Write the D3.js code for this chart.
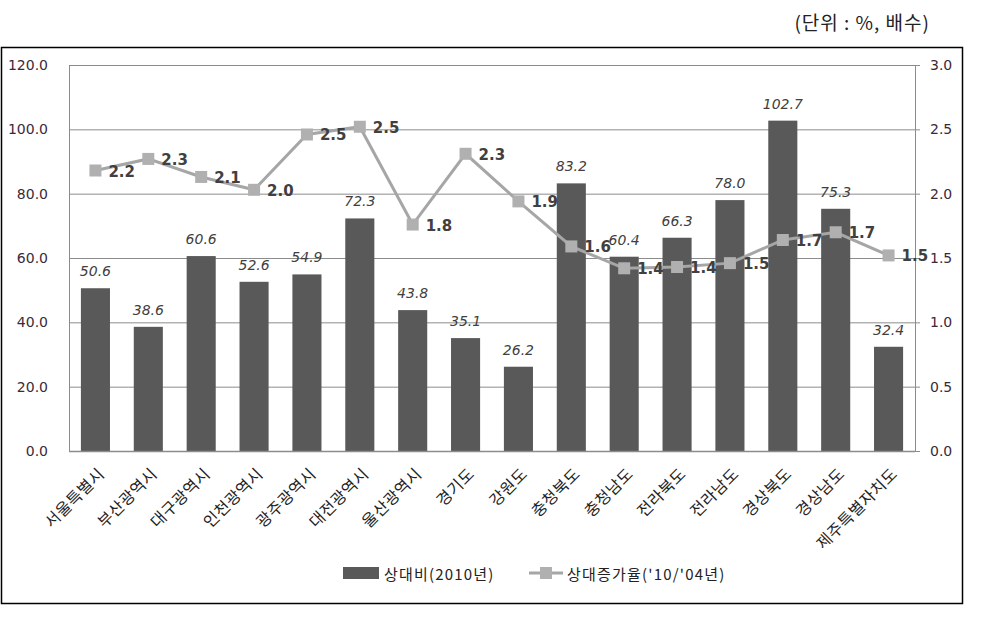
<!DOCTYPE html>
<html>
<head>
<meta charset="utf-8">
<script src="https://cdn.jsdelivr.net/npm/d3@7"></script>
<style>
body { margin: 0; background: #fff; }
text { font-family: "DejaVu Sans", "Noto Sans CJK KR", sans-serif; }
.kr { font-family: "Noto Sans CJK KR", sans-serif; }
</style>
</head>
<body>
<div id="chart"></div>
<script>
var regions = ["서울특별시", "부산광역시", "대구광역시", "인천광역시", "광주광역시", "대전광역시", "울산광역시",
    "경기도", "강원도", "충청북도", "충청남도", "전라북도", "전라남도", "경상북도", "경상남도", "제주특별자치도"];
var ratio2010 = [50.6, 38.6, 60.6, 52.6, 54.9, 72.3, 43.8, 35.1, 26.2, 83.2, 60.4, 66.3, 78.0, 102.7, 75.3, 32.4];
var growth = [2.18, 2.27, 2.13, 2.03, 2.46, 2.52, 1.76, 2.31, 1.94, 1.59, 1.42, 1.43, 1.46, 1.64, 1.70, 1.52];
var growthLabels = ["2.2", "2.3", "2.1", "2.0", "2.5", "2.5", "1.8", "2.3", "1.9", "1.6", "1.4", "1.4", "1.5", "1.7", "1.7", "1.5"];
var leftTicks = [0, 20, 40, 60, 80, 100, 120];
var rightTicks = [0, 0.5, 1.0, 1.5, 2.0, 2.5, 3.0];
var seriesNames = ["상대비(2010년)", "상대증가율('10/'04년)"];

var W = 986, H = 626;
var plot = {left: 69, right: 915, top: 65, bottom: 451};

var svg = d3.select("#chart").append("svg")
    .attr("width", W).attr("height", H);

// unit note
svg.append("text").attr("class", "kr")
    .attr("x", 930).attr("y", 30)
    .attr("text-anchor", "end")
    .style("font-size", "19px").style("letter-spacing", "1px").style("fill", "#222")
    .text("(단위 : %,  배수)");

// outer frame
svg.append("rect")
    .attr("x", 1.5).attr("y", 47.5).attr("width", 961).attr("height", 556)
    .style("fill", "none").style("stroke", "#000").style("stroke-width", 1.5);

var x = d3.scaleBand().domain(regions).range([plot.left, plot.right]).paddingInner(0.45).paddingOuter(0.225);
var yL = d3.scaleLinear().domain([0, 120]).range([plot.bottom, plot.top]);
var yR = d3.scaleLinear().domain([0, 3]).range([plot.bottom, plot.top]);

// gridlines
svg.append("g").selectAll("line").data(leftTicks.slice(1)).enter().append("line")
    .attr("x1", plot.left).attr("x2", plot.right)
    .attr("y1", function(d){ return yL(d) + 0.5; })
    .attr("y2", function(d){ return yL(d) + 0.5; })
    .style("stroke", "#8c8c8c").style("stroke-width", 1);

// left axis
var gL = svg.append("g").attr("transform", "translate(" + plot.left + ",0)")
    .call(d3.axisLeft(yL).tickValues(leftTicks).tickFormat(d3.format(".1f")).tickSize(0).tickPadding(21));
gL.select(".domain").style("stroke", "#8c8c8c");
gL.selectAll("text").style("font-size", "14px").style("fill", "#3a2a3a");

// right axis
var gR = svg.append("g").attr("transform", "translate(" + plot.right + ",0)")
    .call(d3.axisRight(yR).tickValues(rightTicks).tickFormat(d3.format(".1f")).tickSize(5).tickPadding(10));
gR.select(".domain").style("stroke", "#8c8c8c");
gR.selectAll("line").style("stroke", "#8c8c8c");
gR.selectAll("text").style("font-size", "14px").style("fill", "#3a2a3a");

// bars
svg.append("g").selectAll("rect").data(ratio2010).enter().append("rect")
    .attr("x", function(d, i){ return x(regions[i]); })
    .attr("width", x.bandwidth())
    .attr("y", function(d){ return yL(d); })
    .attr("height", function(d){ return plot.bottom - yL(d); })
    .style("fill", "#595959");

// bottom axis line
svg.append("line")
    .attr("x1", plot.left).attr("x2", plot.right)
    .attr("y1", plot.bottom + 0.5).attr("y2", plot.bottom + 0.5)
    .style("stroke", "#8c8c8c").style("stroke-width", 1.5);

// bar labels
svg.append("g").selectAll("text").data(ratio2010).enter().append("text")
    .attr("x", function(d, i){ return x(regions[i]) + x.bandwidth() / 2; })
    .attr("y", function(d){ return yL(d) - 12; })
    .attr("text-anchor", "middle")
    .style("font-size", "14px").style("font-style", "italic").style("fill", "#404040")
    .text(function(d){ return d.toFixed(1); });

// line
var cx = function(i){ return x(regions[i]) + x.bandwidth() / 2; };
svg.append("path").datum(growth)
    .attr("d", d3.line().x(function(d, i){ return cx(i); }).y(function(d){ return yR(d); }))
    .style("fill", "none").style("stroke", "#a6a6a6").style("stroke-width", 3);

svg.append("g").selectAll("rect").data(growth).enter().append("rect")
    .attr("x", function(d, i){ return cx(i) - 6; })
    .attr("y", function(d){ return yR(d) - 6; })
    .attr("width", 12).attr("height", 12)
    .style("fill", "#b0b0b0");

svg.append("g").selectAll("text").data(growth).enter().append("text")
    .attr("x", function(d, i){ return cx(i) + 13; })
    .attr("y", function(d){ return yR(d) + 6; })
    .style("font-size", "15px").style("font-weight", "bold").style("fill", "#404040")
    .text(function(d, i){ return growthLabels[i]; });

// category labels
svg.append("g").selectAll("text").data(regions).enter().append("text")
    .attr("class", "kr")
    .attr("text-anchor", "end")
    .attr("transform", function(d){ return "translate(" + (x(d) + x.bandwidth() / 2 + 10) + "," + (plot.bottom + 24) + ") rotate(-45)"; })
    .style("font-size", "16px").style("letter-spacing", "0.5px").style("fill", "#222")
    .text(function(d){ return d; });

// legend
var lg = svg.append("g");
lg.append("rect").attr("x", 343).attr("y", 567).attr("width", 36).attr("height", 12).style("fill", "#595959");
lg.append("text").attr("class", "kr").attr("x", 384).attr("y", 580)
    .style("font-size", "15px").style("letter-spacing", "1.2px").style("fill", "#222").text(seriesNames[0]);
lg.append("line").attr("x1", 529).attr("x2", 563).attr("y1", 573).attr("y2", 573)
    .style("stroke", "#a6a6a6").style("stroke-width", 3);
lg.append("rect").attr("x", 540).attr("y", 567).attr("width", 12).attr("height", 12).style("fill", "#b0b0b0");
lg.append("text").attr("class", "kr").attr("x", 567).attr("y", 580)
    .style("font-size", "15px").style("letter-spacing", "1.2px").style("fill", "#222").text(seriesNames[1]);
</script>
</body>
</html>
